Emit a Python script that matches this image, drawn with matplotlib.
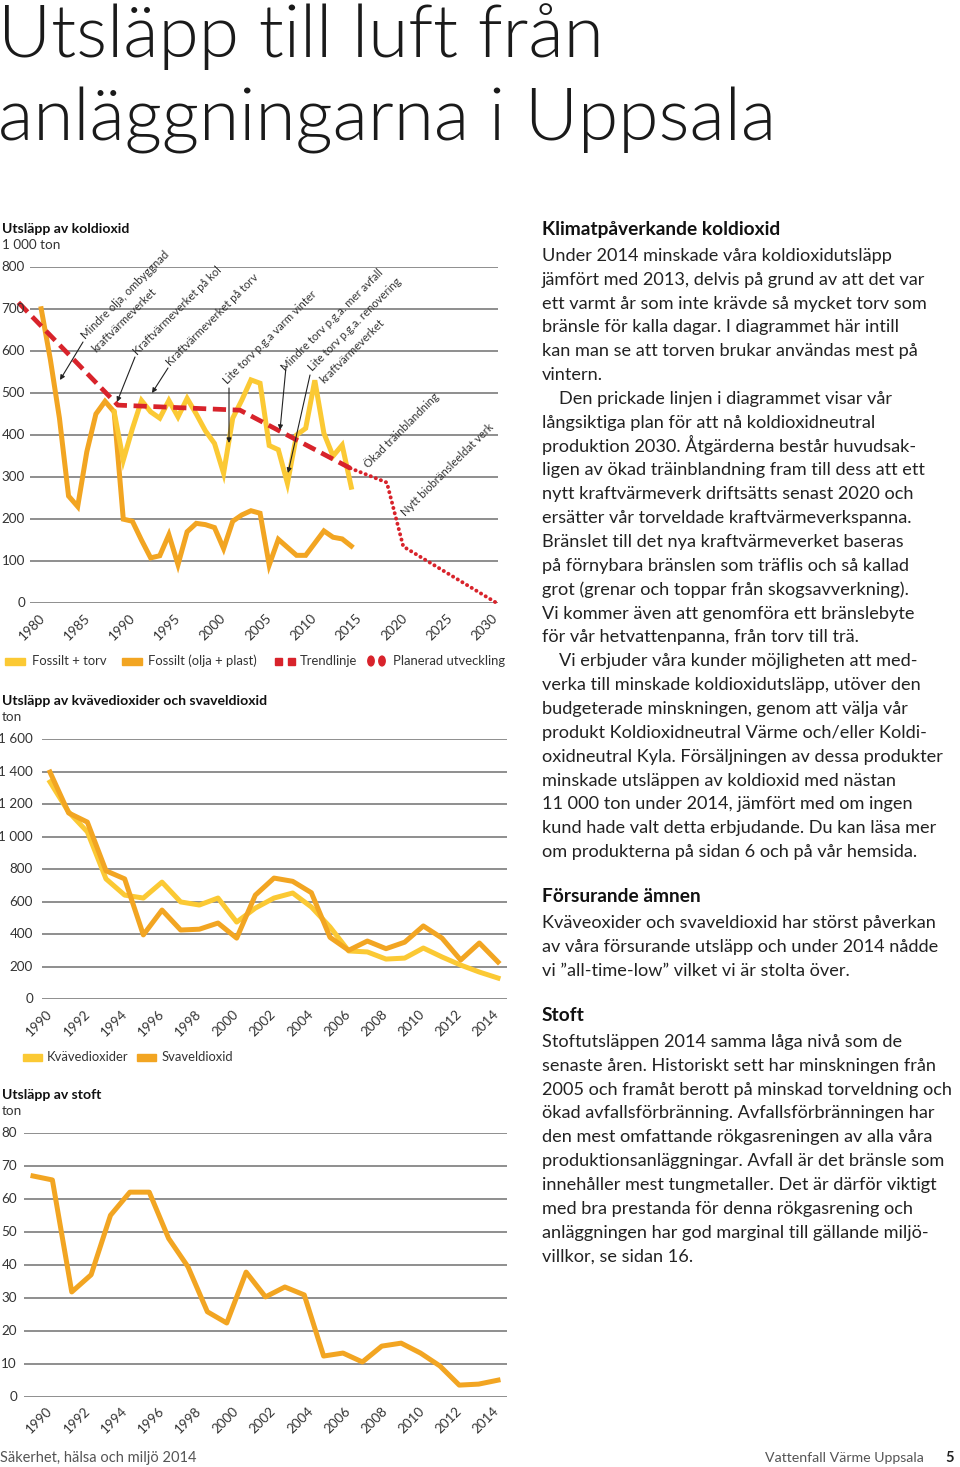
import matplotlib
matplotlib.use('Agg')
import matplotlib.pyplot as plt
from matplotlib.patches import Rectangle, Circle, FancyArrowPatch
from matplotlib import font_manager

# ---------------- data ----------------
co2_fossil_years = list(range(1980, 2015))
co2_fossil = [700, 580, 440, 255, 230, 360, 450, 480, 455, 200, 195, 150, 108, 113, 163,
              92, 170, 190, 187, 180, 130, 195, 210, 220, 214, 91, 152, 133, 114, 114,
              143, 172, 157, 153, 136]
co2_torv_years = list(range(1988, 2015))
co2_torv = [455, 340, 415, 482, 455, 440, 482, 443, 487, 450, 410, 380, 309, 440, 483,
            531, 523, 375, 365, 285, 400, 416, 530, 404, 350, 376, 276]
trend_years = [1977.5, 1988.4, 2001.8, 2013.9]
trend_vals = [715, 471, 459, 321]
plan_years = [2013.9, 2017.9, 2019.7, 2030]
plan_vals = [321, 287, 135, 0]
co2_ticks = [0, 100, 200, 300, 400, 500, 600, 700, 800]
co2_xlabels = [1980, 1985, 1990, 1995, 2000, 2005, 2010, 2015, 2020, 2025, 2030]

nox_years = list(range(1990, 2015))
so2 = [1398, 1146, 1090, 790, 740, 395, 548, 425, 430, 468, 375, 640, 745, 725, 655,
       380, 300, 357, 310, 350, 450, 375, 240, 345, 228]
nox = [1337, 1152, 1030, 740, 640, 622, 720, 598, 579, 622, 474, 560, 622, 653, 567,
       444, 296, 290, 246, 252, 314, 259, 209, 166, 129]
nox_ticks = [0, 200, 400, 600, 800, 1000, 1200, 1400, 1600]
nox_ticklabels = ['0', '200', '400', '600', '800', '1 000', '1 200', '1 400', '1 600']

dust_years = list(range(1990, 2015))
dust = [66.9, 65.7, 31.8, 37, 55, 62, 62, 48, 39.4, 25.8, 22.4, 37.8, 30.3, 33.3, 30.9,
        12.4, 13.3, 10.6, 15.4, 16.3, 13.3, 9.4, 3.6, 3.9, 5.1]
dust_ticks = [0, 10, 20, 30, 40, 50, 60, 70, 80]
small_xlabels = list(range(1990, 2015, 2))

# ---------------- style ----------------
YELLOW = '#FBC934'
ORANGE = '#F2A522'
RED = '#D8232B'
GRID = '#707070'
TXT = '#222222'
FONT = ['Lato', 'DejaVu Sans']
plt.rcParams['font.family'] = FONT

# pick a light (300) weight font for the big title if available
TITLE_FONT = None
for fam in ['Lato', 'Roboto', 'Open Sans', 'Inter', 'Noto Sans']:
    for f in font_manager.fontManager.ttflist:
        if f.name == fam and f.style == 'normal' and f.weight in (300, 'light'):
            TITLE_FONT = f.fname
            break
    if TITLE_FONT:
        break
if TITLE_FONT:
    title_fp = font_manager.FontProperties(fname=TITLE_FONT, size=52.5)
else:
    title_fp = font_manager.FontProperties(family=FONT, size=50, weight='normal')

W, H = 960, 1467
fig = plt.figure(figsize=(W / 100, H / 100), dpi=100)


def fx(x):
    return x / W


def fy(y):
    return 1 - y / H


def ftext(x, y, s, **kw):
    kw.setdefault('color', TXT)
    return fig.text(fx(x), fy(y), s, **kw)


def make_axes(left, right, top, bottom, xlim, ylim):
    ax = fig.add_axes([fx(left), fy(bottom), (right - left) / W, (bottom - top) / H])
    ax.set_xlim(*xlim)
    ax.set_ylim(*ylim)
    ax.axis('off')
    return ax


# ---------------- title ----------------
ftext(-2, 57, 'Utsläpp till luft från', fontproperties=title_fp, va='baseline', color='#1a1a1a')
ftext(-2, 140, 'anläggningarna i Uppsala', fontproperties=title_fp, va='baseline', color='#1a1a1a')

# ---------------- CO2 chart ----------------
px1995, ppy = 178, 9.12
def yr1(px):
    return 1995 + (px - px1995) / ppy
ax1 = make_axes(30, 498, 266.7, 603.3, (yr1(30), yr1(498)), (0, 800))
TICK = dict(fontsize=9.7, color='#333')
for t in co2_ticks:
    ax1.axhline(t, color=GRID, lw=1.1, zorder=1)
    ftext(25, 603.3 - t * 0.4208, str(t), ha='right', va='center', **TICK)
ax1.plot(co2_fossil_years, co2_fossil, color=ORANGE, lw=3.6, solid_joinstyle='miter', zorder=3, clip_on=False)
ax1.plot(co2_torv_years, co2_torv, color=YELLOW, lw=3.6, solid_joinstyle='miter', zorder=4, clip_on=False)
ax1.plot(trend_years, trend_vals, color=RED, lw=3.4, dashes=(2.8, 1.4), zorder=5, clip_on=False)
ax1.plot(plan_years, plan_vals, color=RED, lw=2.8, dashes=(0.05, 1.35), dash_capstyle='round', zorder=5, clip_on=False)
for lab in co2_xlabels:
    ftext(47 + (lab - 1980) * 9.06, 612, str(lab), rotation=45, ha='right', va='top', **TICK)

CT = dict(fontsize=10.1, fontweight='bold', va='baseline', color='#111')
ftext(2, 233, 'Utsläpp av koldioxid', **CT)
ftext(2, 249, '1 000 ton', fontsize=9.7, va='baseline', color='#333')

# annotations (rotated text + arrows)
ANN = dict(fontsize=8.1, rotation=45, rotation_mode='anchor', ha='left', va='baseline', color='#333')
ann_texts = [
    (86, 340, 'Mindre olja, ombyggnad'),
    (96, 353, 'kraftvärmeverket'),
    (138, 356, 'Kraftvärmeverket på kol'),
    (171, 367, 'Kraftvärmeverket på torv'),
    (228, 385, 'Lite torv p.g.a varm vinter'),
    (286, 372, 'Mindre torv p.g.a. mer avfall'),
    (313, 372, 'Lite torv p.g.a. renovering'),
    (324, 384, 'kraftvärmeverket'),
    (369, 469, 'Ökad träinblandning'),
    (406, 517, 'Nytt biobränsleeldat verk'),
]
for x, y, s in ann_texts:
    ftext(x, y, s, **ANN)
arrows = [((83, 342), (60, 380)), ((135, 357), (117, 402)), ((168, 368), (152, 393)),
          ((229, 388), (229, 443)), ((286, 367), (280, 430)), ((310, 375), (288, 473))]
for (x0, y0), (x1, y1) in arrows:
    fig.add_artist(FancyArrowPatch(
        (fx(x0), fy(y0)), (fx(x1), fy(y1)), transform=fig.transFigure,
        arrowstyle='-|>', mutation_scale=7, lw=0.8, color='#222', shrinkA=0, shrinkB=0, zorder=10))

# legend CO2
LEG = dict(fontsize=9.4, va='center', color='#333')
fig.add_artist(Rectangle((fx(5), fy(665)), 20 / W, 7 / H, transform=fig.transFigure, color=YELLOW))
ftext(32, 661, 'Fossilt + torv', **LEG)
fig.add_artist(Rectangle((fx(122), fy(665)), 20 / W, 7 / H, transform=fig.transFigure, color=ORANGE))
ftext(148, 661, 'Fossilt (olja + plast)', **LEG)
for x in (275, 288):
    fig.add_artist(Rectangle((fx(x), fy(664.5)), 7 / W, 7 / H, transform=fig.transFigure, color=RED))
ftext(300, 661, 'Trendlinje', **LEG)
for x in (371, 382):
    fig.add_artist(Circle((fx(x), fy(661)), 3.2 / W, transform=fig.transFigure, color=RED))
ftext(393, 661, 'Planerad utveckling', **LEG)

# ---------------- NOx / SO2 chart ----------------
x1990, ppy2 = 50, 18.667
def yr2(px):
    return 1990 + (px - x1990) / ppy2
ax2 = make_axes(42, 507, 739.3, 999, (yr2(42), yr2(507)), (0, 1600))
for t, lab in zip(nox_ticks, nox_ticklabels):
    ax2.axhline(t, color=GRID, lw=1.1, zorder=1)
    ftext(33, 999 - t * 0.16231, lab, ha='right', va='center', **TICK)
ax2.plot(nox_years, nox, color=YELLOW, lw=3.6, zorder=3, clip_on=False)
ax2.plot(nox_years, so2, color=ORANGE, lw=3.6, zorder=4, clip_on=False)
for lab in small_xlabels:
    ftext(55 + (lab - 1990) * 18.6, 1008, str(lab), rotation=45, ha='right', va='top', **TICK)
ftext(2, 705, 'Utsläpp av kvävedioxider och svaveldioxid', **CT)
ftext(2, 721, 'ton', fontsize=9.7, va='baseline', color='#333')
fig.add_artist(Rectangle((fx(23), fy(1061)), 19 / W, 7 / H, transform=fig.transFigure, color=YELLOW))
ftext(47, 1057, 'Kvävedioxider', **LEG)
fig.add_artist(Rectangle((fx(137), fy(1061)), 19 / W, 7 / H, transform=fig.transFigure, color=ORANGE))
ftext(162, 1057, 'Svaveldioxid', **LEG)

# ---------------- dust chart ----------------
x1990b, ppy3 = 33, 19.375
def yr3(px):
    return 1990 + (px - x1990b) / ppy3
ax3 = make_axes(24, 507, 1132.7, 1397, (yr3(24), yr3(507)), (0, 80))
for t in dust_ticks:
    ax3.axhline(t, color=GRID, lw=1.1, zorder=1)
    ftext(17, 1397 - t * 3.305, str(t), ha='right', va='center', **TICK)
ax3.plot(dust_years, dust, color=ORANGE, lw=3.6, zorder=3, clip_on=False)
for lab in small_xlabels:
    ftext(55 + (lab - 1990) * 18.6, 1405, str(lab), rotation=45, ha='right', va='top', **TICK)
ftext(2, 1099, 'Utsläpp av stoft', **CT)
ftext(2, 1115, 'ton', fontsize=9.7, va='baseline', color='#333')

# ---------------- right column text ----------------
BODY = dict(fontsize=13.1, va='baseline', color=TXT)
HEAD = dict(fontsize=13.8, va='baseline', fontweight='bold', color='#111')
X0 = 542
sec1 = [
    'Under 2014 minskade våra koldioxidutsläpp',
    'jämfört med 2013, delvis på grund av att det var',
    'ett varmt år som inte krävde så mycket torv som',
    'bränsle för kalla dagar. I diagrammet här intill',
    'kan man se att torven brukar användas mest på',
    'vintern.',
    '   Den prickade linjen i diagrammet visar vår',
    'långsiktiga plan för att nå koldioxidneutral',
    'produktion 2030. Åtgärderna består huvudsak-',
    'ligen av ökad träinblandning fram till dess att ett',
    'nytt kraftvärmeverk driftsätts senast 2020 och',
    'ersätter vår torveldade kraftvärmeverkspanna.',
    'Bränslet till det nya kraftvärmeverket baseras',
    'på förnybara bränslen som träflis och så kallad',
    'grot (grenar och toppar från skogsavverkning).',
    'Vi kommer även att genomföra ett bränslebyte',
    'för vår hetvattenpanna, från torv till trä.',
    '   Vi erbjuder våra kunder möjligheten att med-',
    'verka till minskade koldioxidutsläpp, utöver den',
    'budgeterade minskningen, genom att välja vår',
    'produkt Koldioxidneutral Värme och/eller Koldi-',
    'oxidneutral Kyla. Försäljningen av dessa produkter',
    'minskade utsläppen av koldioxid med nästan',
    '11 000 ton under 2014, jämfört med om ingen',
    'kund hade valt detta erbjudande. Du kan läsa mer',
    'om produkterna på sidan 6 och på vår hemsida.',
]
sec2 = [
    'Kväveoxider och svaveldioxid har störst påverkan',
    'av våra försurande utsläpp och under 2014 nådde',
    'vi ”all-time-low” vilket vi är stolta över.',
]
sec3 = [
    'Stoftutsläppen 2014 samma låga nivå som de',
    'senaste åren. Historiskt sett har minskningen från',
    '2005 och framåt berott på minskad torveldning och',
    'ökad avfallsförbränning. Avfallsförbränningen har',
    'den mest omfattande rökgasreningen av alla våra',
    'produktionsanläggningar. Avfall är det bränsle som',
    'innehåller mest tungmetaller. Det är därför viktigt',
    'med bra prestanda för denna rökgasrening och',
    'anläggningen har god marginal till gällande miljö-',
    'villkor, se sidan 16.',
]
LS = 23.85


def block(head, lines, y_head):
    ftext(X0, y_head + 6, head, **HEAD)
    for i, s in enumerate(lines):
        x = X0
        if s.startswith('   '):
            s = s.strip()
            x = X0 + 17
        ftext(x, y_head + 8 + LS * (i + 1), s, **BODY)


block('Klimatpåverkande koldioxid', sec1, 229)
block('Försurande ämnen', sec2, 896)
block('Stoft', sec3, 1015)

# ---------------- footer ----------------
ftext(0, 1462, 'Säkerhet, hälsa och miljö 2014', fontsize=10.5, va='baseline', color='#555')
ftext(765, 1462, 'Vattenfall Värme Uppsala', fontsize=10.2, va='baseline', color='#555')
ftext(945, 1462, '5', fontsize=10.5, va='baseline', fontweight='bold', color='#222')

fig.savefig('out.png', dpi=100)
